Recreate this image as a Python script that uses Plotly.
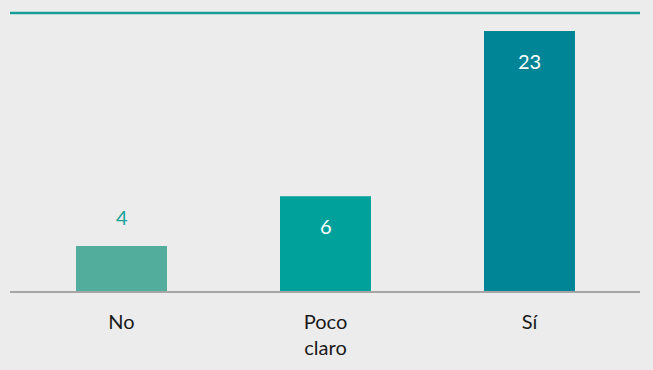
import math
import plotly.graph_objects as go

categories = ["No", "Poco<br>claro", "Sí"]
values = [4, 6, 23]
bar_colors = ["#52ad9c", "#00a19a", "#008596"]
label_colors = ["#1aa39a", "#ffffff", "#ffffff"]
label_inside = [False, True, True]

fig = go.Figure()
fig.add_trace(go.Bar(
    x=categories, y=values, marker=dict(color=bar_colors, line=dict(width=0)),
    width=0.446, hoverinfo="skip", showlegend=False,
))

for c, v, col, inside in zip(categories, values, label_colors, label_inside):
    fig.add_annotation(
        x=c, y=math.log10(v), text=str(v), showarrow=False,
        yshift=-30 if inside else 29, yanchor="middle",
        font=dict(family="Lato", size=20, color=col),
    )

fig.add_shape(type="line", xref="paper", yref="paper", x0=0, x1=1, y0=1, y1=1,
              line=dict(color="#179d95", width=2.5))

fig.update_layout(
    width=653, height=370,
    margin=dict(l=10, r=13, t=13, b=79),
    paper_bgcolor="#ececec", plot_bgcolor="#ececec",
    font=dict(family="Lato", size=20, color="#1a1a1a"),
    xaxis=dict(range=[-0.5466, 2.5417], showline=True, linecolor="#a6a6a6", linewidth=2,
               showgrid=False, ticks="", layer="below traces", tickfont=dict(size=20),
               ticklabelstandoff=12, fixedrange=True),
    yaxis=dict(type="log", range=[0.44305, 1.42538], showgrid=False, zeroline=False,
               showticklabels=False, ticks="", showline=False, fixedrange=True),
)

fig.write_html("out.html")
